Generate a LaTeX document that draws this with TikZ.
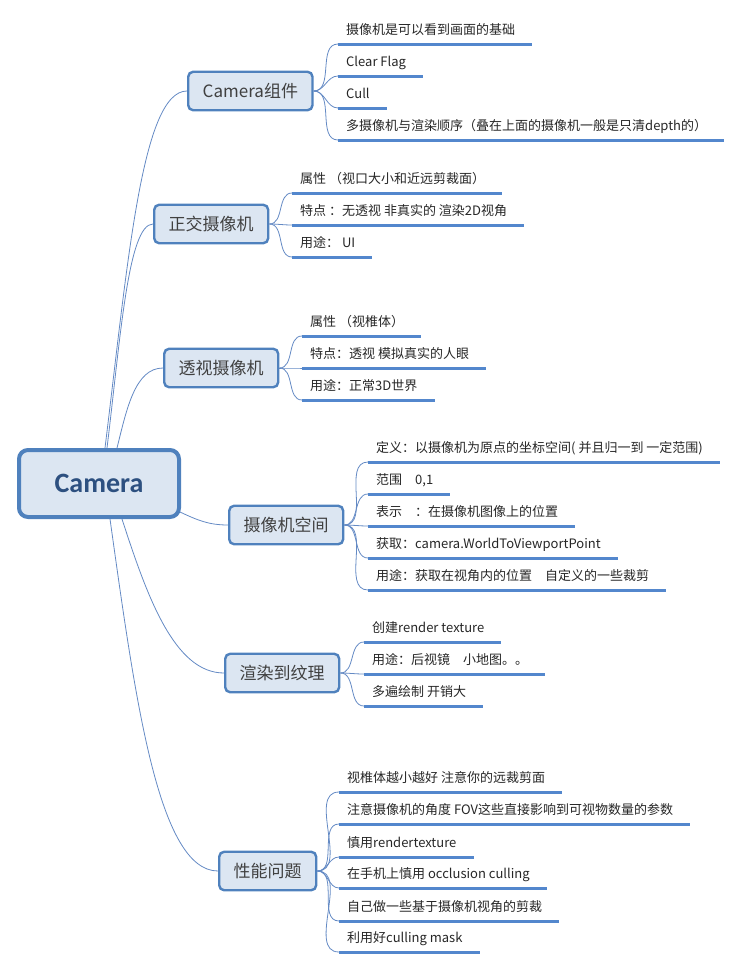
\documentclass[tikz,border=0pt]{standalone}
\usepackage{fontspec}
\setmainfont{Noto Sans CJK SC}
\newfontfamily\rootfont{Carlito}
\usepackage{tikz}

\definecolor{boxfill}{RGB}{220,230,242}
\definecolor{boxline}{RGB}{79,129,189}
\definecolor{linkblue}{RGB}{100,138,196}
\definecolor{ulblue}{RGB}{83,135,205}
\definecolor{roottext}{RGB}{45,80,128}

\tikzset{
  link/.style={draw=linkblue, line width=0.8pt},
  uline/.style={draw=ulblue, line width=3pt},
  rootbox/.style={draw=boxline, fill=boxfill, line width=4pt, rounded corners=9pt,
    minimum width=160pt, minimum height=67pt,
    font=\rootfont\bfseries\fontsize{28}{30}\selectfont, text=roottext},
  topic/.style={draw=boxline, fill=boxfill, line width=2.4pt, rounded corners=5pt,
    anchor=west, inner xsep=14.5pt, minimum height=38.5pt,
    font=\fontsize{17}{20}\selectfont, text=black!75},
  leaf/.style={anchor=south west, inner xsep=8pt, inner ysep=6pt,
    text height=10pt, text depth=3pt, font=\fontsize{13}{15}\selectfont, text=black!85,
    append after command={(\tikzlastnode.south west) edge[uline] ([xshift=9pt]\tikzlastnode.south east)}},
}

\begin{document}
\begin{tikzpicture}[x=1pt, y=1pt]
  \useasboundingbox (0,0) rectangle (736,-969);
  % root
  \node[rootbox] (camera) at (99,-483.5) {Camera};
  % topics
  \node[topic] (comp)  at (187,-91)  {Camera组件};
  \node[topic] (ortho) at (153,-224) {正交摄像机};
  \node[topic] (persp) at (163,-368) {透视摄像机};
  \node[topic] (space) at (228,-525) {摄像机空间};
  \node[topic] (rtt)   at (224,-673) {渲染到纹理};
  \node[topic] (perf)  at (218,-871) {性能问题};
  % root links
  \draw[link] ([xshift=6pt]camera.north)  to[out=83, in=180, out distance=190pt, in distance=45pt] (comp.west);
  \draw[link] ([xshift=8pt]camera.north)  to[out=83, in=180, out distance=110pt, in distance=25pt] (ortho.west);
  \draw[link] ([xshift=18pt]camera.north) to[out=76, in=180, out distance=40pt, in distance=28pt] (persp.west);
  \draw[link] ([shift={(-1pt,7pt)}]camera.south east) to[out=-25, in=180] (space.west);
  \draw[link] ([xshift=23pt]camera.south) to[out=-72, in=180, out distance=80pt, in distance=50pt] (rtt.west);
  \draw[link] ([xshift=11pt]camera.south) to[out=-82, in=180, out distance=180pt, in distance=60pt] (perf.west);
  % Camera组件
  \node[leaf] (comp1) at (338,-44)  {摄像机是可以看到画面的基础};
  \node[leaf] (comp2) at (338,-76)  {Clear Flag};
  \node[leaf] (comp3) at (338,-108) {Cull};
  \node[leaf] (comp4) at (338,-140) {多摄像机与渲染顺序（叠在上面的摄像机一般是只清depth的）};
  \draw[link] (comp.east) to[out=0, in=180] (comp1.south west);
  \draw[link] (comp.east) to[out=0, in=180] (comp2.south west);
  \draw[link] (comp.east) to[out=0, in=180] (comp3.south west);
  \draw[link] (comp.east) to[out=0, in=180] (comp4.south west);
  % 正交摄像机
  \node[leaf] (ortho1) at (292,-193) {属性 （视口大小和近远剪裁面）};
  \node[leaf] (ortho2) at (292,-225) {特点 ：无透视 非真实的 渲染2D视角};
  \node[leaf] (ortho3) at (292,-257) {用途： UI};
  \draw[link] (ortho.east) to[out=0, in=180] (ortho1.south west);
  \draw[link] (ortho.east) to[out=0, in=180] (ortho2.south west);
  \draw[link] (ortho.east) to[out=0, in=180] (ortho3.south west);
  % 透视摄像机
  \node[leaf] (persp1) at (302,-336) {属性 （视椎体）};
  \node[leaf] (persp2) at (302,-368) {特点：透视 模拟真实的人眼};
  \node[leaf] (persp3) at (302,-400) {用途：正常3D世界};
  \draw[link] (persp.east) to[out=0, in=180] (persp1.south west);
  \draw[link] (persp.east) to[out=0, in=180] (persp2.south west);
  \draw[link] (persp.east) to[out=0, in=180] (persp3.south west);
  % 摄像机空间
  \node[leaf] (space1) at (368,-462) {定义：以摄像机为原点的坐标空间( 并且归一到 一定范围)};
  \node[leaf] (space2) at (368,-494) {范围\quad 0,1};
  \node[leaf] (space3) at (368,-526) {表示\quad ：在摄像机图像上的位置};
  \node[leaf] (space4) at (368,-558) {获取：camera.WorldToViewportPoint};
  \node[leaf] (space5) at (368,-590) {用途：获取在视角内的位置\quad 自定义的一些裁剪};
  \draw[link] (space.east) to[out=0, in=180] (space1.south west);
  \draw[link] (space.east) to[out=0, in=180] (space2.south west);
  \draw[link] (space.east) to[out=0, in=180] (space3.south west);
  \draw[link] (space.east) to[out=0, in=180] (space4.south west);
  \draw[link] (space.east) to[out=0, in=180] (space5.south west);
  % 渲染到纹理
  \node[leaf] (rtt1) at (364,-642) {创建render texture};
  \node[leaf] (rtt2) at (364,-674) {用途：后视镜\quad 小地图。。};
  \node[leaf] (rtt3) at (364,-706) {多遍绘制 开销大};
  \draw[link] (rtt.east) to[out=0, in=180] (rtt1.south west);
  \draw[link] (rtt.east) to[out=0, in=180] (rtt2.south west);
  \draw[link] (rtt.east) to[out=0, in=180] (rtt3.south west);
  % 性能问题
  \node[leaf] (perf1) at (339,-792) {视椎体越小越好 注意你的远裁剪面};
  \node[leaf] (perf2) at (339,-824) {注意摄像机的角度 FOV这些直接影响到可视物数量的参数};
  \node[leaf] (perf3) at (339,-857) {慎用rendertexture};
  \node[leaf] (perf4) at (339,-888) {在手机上慎用 occlusion culling};
  \node[leaf] (perf5) at (339,-921) {自己做一些基于摄像机视角的剪裁};
  \node[leaf] (perf6) at (339,-952) {利用好culling mask};
  \draw[link] (perf.east) to[out=0, in=180] (perf1.south west);
  \draw[link] (perf.east) to[out=0, in=180] (perf2.south west);
  \draw[link] (perf.east) to[out=0, in=180] (perf3.south west);
  \draw[link] (perf.east) to[out=0, in=180] (perf4.south west);
  \draw[link] (perf.east) to[out=0, in=180] (perf5.south west);
  \draw[link] (perf.east) to[out=0, in=180] (perf6.south west);
\end{tikzpicture}
\end{document}
